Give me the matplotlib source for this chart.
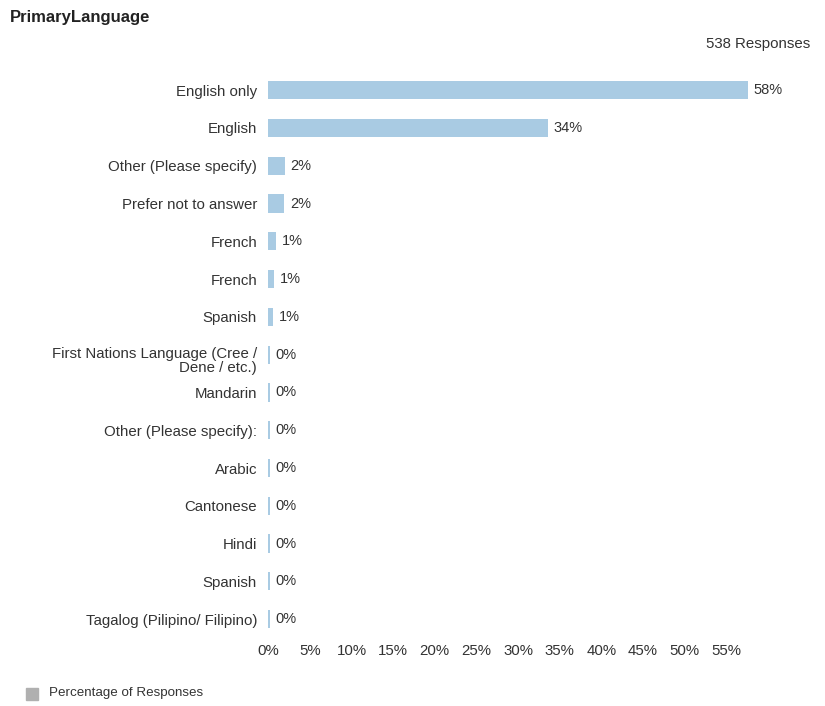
import matplotlib.pyplot as plt
from matplotlib.transforms import ScaledTranslation

# data (percent of 538 responses)
languages = [
    "English only",
    "English",
    "Other (Please specify)",
    "Prefer not to answer",
    "French",
    "French",
    "Spanish",
    "First Nations Language (Cree /\nDene / etc.)",
    "Mandarin",
    "Other (Please specify):",
    "Arabic",
    "Cantonese",
    "Hindi",
    "Spanish",
    "Tagalog (Pilipino/ Filipino)",
]
percent = [57.6, 33.6, 2.0, 1.9, 0.9, 0.7, 0.6, 0.2, 0.2, 0.2, 0.2, 0.2, 0.2, 0.2, 0.2]
labels = ["58%", "34%", "2%", "2%", "1%", "1%", "1%",
          "0%", "0%", "0%", "0%", "0%", "0%", "0%", "0%"]
xticks = list(range(0, 60, 5))

plt.rcParams['font.family'] = ['Liberation Sans', 'DejaVu Sans']

fig = plt.figure(figsize=(8.25, 7.06), dpi=100)
ax = fig.add_axes([0.325, 0.0963, 0.606, 0.8027])

ypos = list(range(len(languages)))
ax.barh(ypos, percent, height=0.48, color="#a9cbe3", edgecolor="none")

for y, v, lab in zip(ypos, percent, labels):
    ax.text(v + 0.7, y, lab, va="center", ha="left", fontsize=10.5, color="#333333")

ax.set_ylim(len(languages) - 0.5, -0.5)
ax.set_xlim(0, 60)
ax.set_yticks(ypos)
ax.set_yticklabels(languages, fontsize=10.8, color="#333333", linespacing=1.0)
ax.set_xticks(xticks)
ax.set_xticklabels([f"{t}%" for t in xticks], fontsize=10.8, color="#333333")
ax.tick_params(axis="both", length=0)
ax.tick_params(axis="y", pad=8)
ax.tick_params(axis="x", pad=4)
for s in ax.spines.values():
    s.set_visible(False)

# the two-line label sits a little lower in the original
lab7 = ax.get_yticklabels()[7]
lab7.set_transform(lab7.get_transform() + ScaledTranslation(0, -5 / 100, fig.dpi_scale_trans))

fig.text(0.012, 0.975, "PrimaryLanguage", fontsize=12, fontweight="bold",
         va="center", ha="left", color="#222222")
fig.text(0.982, 0.937, "538 Responses", fontsize=10.8, va="center", ha="right",
         color="#333333")

# legend at the bottom left
fig.patches.append(plt.Rectangle((0.032, 0.009), 0.014, 0.017,
                                 transform=fig.transFigure, color="#b0b0b0"))
fig.text(0.059, 0.018, "Percentage of Responses", fontsize=9.6, va="center",
         ha="left", color="#333333")

plt.savefig("out.png", dpi=100)
